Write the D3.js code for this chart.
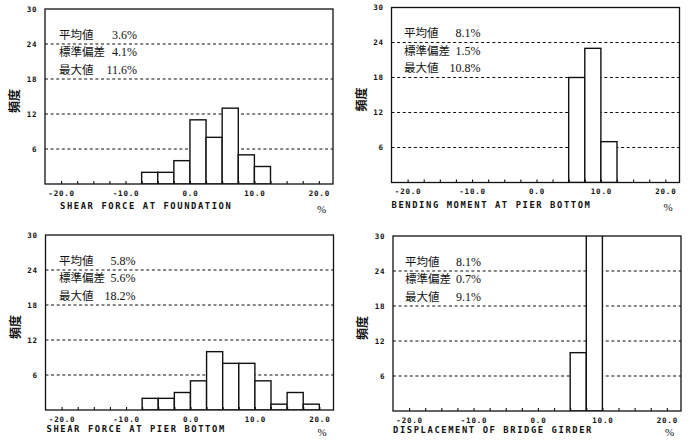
<!DOCTYPE html>
<html>
<head>
<meta charset="utf-8">
<script src="https://cdn.jsdelivr.net/npm/d3@7"></script>
<style>
  html, body { margin: 0; padding: 0; background: #fff; }
  svg { display: block; }
  .tick text { font-family: "DejaVu Sans Mono", monospace; font-weight: bold; }
</style>
</head>
<body>
<svg id="chart" width="690" height="445"></svg>
<script>
// Histogram bins: lower edge of each 2.5 % wide class
const binStarts = [-7.5, -5, -2.5, 0, 2.5, 5, 7.5, 10, 12.5, 15, 17.5];
const binWidth = 2.5;

// Frequencies per bin for each response quantity
const shearFoundation    = [2, 2, 4, 11, 8, 13, 5, 3, 0, 0, 0];
const momentPierBottom   = [0, 0, 0, 0, 0, 18, 23, 7, 0, 0, 0];
const shearPierBottom    = [2, 2, 3, 5, 10, 8, 8, 5, 1, 3, 1];
const girderDisplacement = [0, 0, 0, 0, 0, 10, 38, 0, 0, 0, 0];

const titles = [
  "SHEAR FORCE AT FOUNDATION",
  "BENDING MOMENT AT PIER BOTTOM",
  "SHEAR FORCE AT PIER BOTTOM",
  "DISPLACEMENT OF BRIDGE GIRDER"
];

// Summary statistics (%): mean, standard deviation, maximum
const statLabels = ["平均値", "標準偏差", "最大値"];
const meanValues = ["3.6%", "8.1%", "5.8%", "8.1%"];
const stdValues  = ["4.1%", "1.5%", "5.6%", "0.7%"];
const maxValues  = ["11.6%", "10.8%", "18.2%", "9.1%"];

const xLabelTicks = [-20, -10, 0, 10, 20];
const xMinorTicks = d3.range(-20, 20.01, 2.5);
const yTicks = [6, 12, 18, 24, 30];
const xDomain = [-22.5, 22.2];
const yDomain = [0, 30];

const seriesList = [shearFoundation, momentPierBottom, shearPierBottom, girderDisplacement];

// Panel placement on the page
const W = 288, H = 175;
const panels = [
  { left: 45,    top: 9,   titleX: 15, titleY: 25, statX: 14,   valX: 92 },
  { left: 391.5, top: 7.5, titleX: 0,  titleY: 25, statX: 12.5, valX: 89 },
  { left: 45.5,  top: 235, titleX: 1,  titleY: 22, statX: 13.5, valX: 90 },
  { left: 393,   top: 236, titleX: 0,  titleY: 21.5, statX: 12, valX: 88 }
];

const svg = d3.select("#chart");
const x = d3.scaleLinear().domain(xDomain).range([0, W]);
const y = d3.scaleLinear().domain(yDomain).range([H, 0]);

panels.forEach((p, i) => {
  const g = svg.append("g").attr("transform", `translate(${p.left},${p.top})`);
  const counts = seriesList[i];

  g.append("clipPath").attr("id", "clip" + i)
    .append("rect").attr("x", 0).attr("y", 0).attr("width", W).attr("height", H);

  // dashed horizontal guides
  g.selectAll("line.grid").data(yTicks.filter(v => v < 30)).join("line")
    .attr("class", "grid")
    .attr("x1", 0).attr("x2", W)
    .attr("y1", d => y(d)).attr("y2", d => y(d))
    .attr("stroke", "#111").attr("stroke-width", 1.1)
    .attr("stroke-dasharray", "3,2.6");

  // histogram bars
  const bins = binStarts.map((s, k) => ({ x0: s, x1: s + binWidth, n: counts[k] })).filter(b => b.n > 0);
  g.append("g").attr("clip-path", `url(#clip${i})`)
    .selectAll("rect").data(bins).join("rect")
    .attr("x", d => x(d.x0)).attr("width", d => x(d.x1) - x(d.x0))
    .attr("y", d => y(d.n)).attr("height", d => y(0) - y(d.n))
    .attr("fill", "#fff").attr("stroke", "#111").attr("stroke-width", 1.4);

  // frame
  g.append("rect").attr("x", 0).attr("y", 0).attr("width", W).attr("height", H)
    .attr("fill", "none").attr("stroke", "#111").attr("stroke-width", 1.3);

  // minor ticks along the bottom axis, pointing inward
  g.append("g").attr("transform", `translate(0,${H})`)
    .call(d3.axisBottom(x).tickValues(xMinorTicks).tickSize(-3).tickFormat(""))
    .call(a => a.select(".domain").remove())
    .call(a => a.selectAll("line").attr("stroke", "#111").attr("stroke-width", 1.1));

  // bottom tick labels
  g.append("g").attr("transform", `translate(0,${H})`)
    .call(d3.axisBottom(x).tickValues(xLabelTicks).tickSize(0).tickPadding(6.2)
      .tickFormat(d => d.toFixed(1)))
    .call(a => a.select(".domain").remove())
    .call(a => a.selectAll("text").attr("font-size", 7.5).attr("letter-spacing", 0.8).attr("fill", "#111"));

  // left tick labels
  g.append("g")
    .call(d3.axisLeft(y).tickValues(yTicks).tickSize(0).tickPadding(8).tickFormat(d3.format("d")))
    .call(a => a.select(".domain").remove())
    .call(a => a.selectAll("text").attr("font-size", 7.5).attr("letter-spacing", 0.6).attr("fill", "#111"));

  // y-axis title
  g.append("text")
    .attr("transform", `translate(${-29},${92}) rotate(-90)`)
    .attr("text-anchor", "middle").attr("dominant-baseline", "middle")
    .attr("font-family", "'Noto Sans CJK JP', sans-serif").attr("font-weight", "bold")
    .attr("font-size", 12).attr("fill", "#111")
    .text("頻度");

  // x-axis title and unit
  g.append("text")
    .attr("x", p.titleX).attr("y", H + p.titleY)
    .attr("font-family", "'DejaVu Sans Mono', monospace").attr("font-weight", "bold")
    .attr("font-size", 8.8).attr("letter-spacing", 1.6).attr("fill", "#111")
    .text(titles[i]);
  g.append("text")
    .attr("x", 272).attr("y", H + p.titleY + 3.5)
    .attr("font-family", "'Liberation Serif', serif")
    .attr("font-size", 11).attr("fill", "#111")
    .text("%");

  // statistics block
  const vals = [meanValues[i], stdValues[i], maxValues[i]];
  statLabels.forEach((lab, k) => {
    const yy = 29.5 + k * 17.5;
    g.append("text")
      .attr("x", p.statX).attr("y", yy)
      .attr("font-family", "'Noto Sans CJK JP', sans-serif")
      .attr("font-size", 11.5).attr("fill", "#111")
      .text(lab);
    g.append("text")
      .attr("x", p.valX).attr("y", yy)
      .attr("text-anchor", "end")
      .attr("font-family", "'Liberation Serif', serif")
      .attr("font-size", 12).attr("fill", "#111")
      .text(vals[k]);
  });
});
</script>
</body>
</html>
